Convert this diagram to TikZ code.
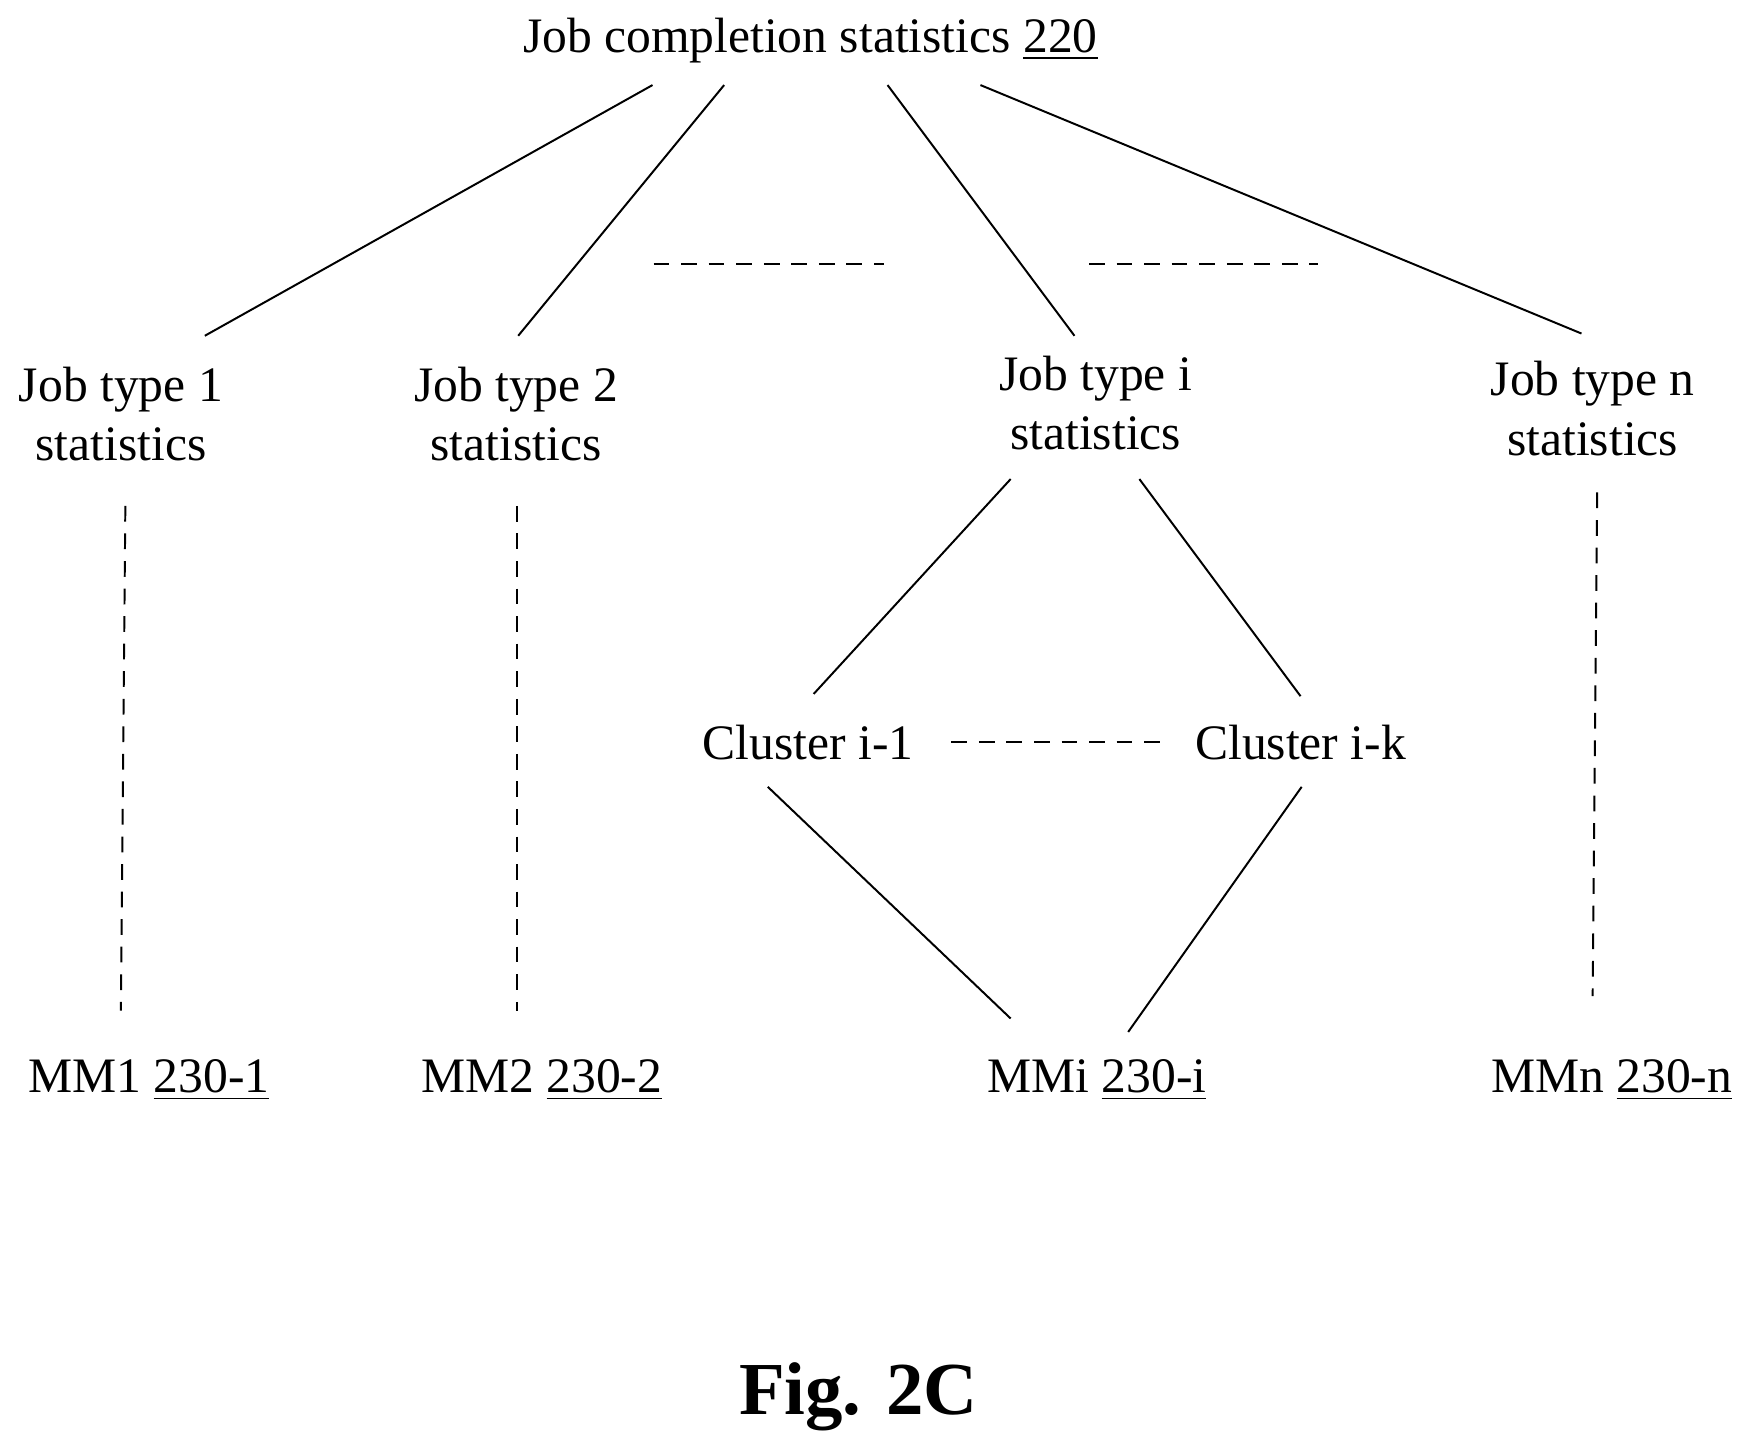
\documentclass[tikz,border=0pt]{standalone}
\usepackage{fontspec}
\setmainfont{Liberation Serif}
\usetikzlibrary{calc}
\tikzset{
  lbl/.style={font=\fontsize{12.6}{15}\selectfont,align=center,inner sep=2pt},
  link/.style={line width=0.5pt},
  gap/.style={line width=0.5pt,dash pattern=on 4pt off 3pt}
}
\begin{document}
\begin{tikzpicture}[x=0.01cm,y=-0.01cm]
        \useasboundingbox (0,0) rectangle (1560,1296);
        % labels
        \node[lbl] (top) at (724,36) {Job completion statistics \underline{220}};
        \node[lbl] (jt1) at (108,370) {Job type 1\\statistics};
        \node[lbl] (jt2) at (461,370) {Job type 2\\statistics};
        \node[lbl] (jti) at (979,360) {Job type i\\statistics};
        \node[lbl] (jtn) at (1423,365) {Job type n\\statistics};
        \node[lbl] (cl1) at (722,663) {Cluster i-1};
        \node[lbl] (clk) at (1162,663) {Cluster i-k};
        \node[lbl] (mm1) at (133,965) {MM1 \underline{230-1}};
        \node[lbl] (mm2) at (484,965) {MM2 \underline{230-2}};
        \node[lbl] (mmi) at (980,965) {MMi \underline{230-i}};
        \node[lbl] (mmn) at (1440,965) {MMn \underline{230-n}};
        \node[font=\fontsize{19}{22}\selectfont\bfseries] (fig) at (767,1248) {Fig. 2C};

        % solid links
        \draw[link] ($(top)+(-141,40)$) -- ($(jt1)+(75,-70)$);
        \draw[link] ($(top)+(-77,40)$) -- ($(jt2)+(2,-70)$);
        \draw[link] ($(top)+(69,40)$) -- ($(jti)+(-19,-60)$);
        \draw[link] ($(top)+(152,40)$) -- ($(jtn)+(-10,-67)$);
        \draw[link] ($(jti)+(-76,68)$) -- ($(cl1)+(5,-43)$);
        \draw[link] ($(jti)+(39,68)$) -- ($(clk)+(0,-41)$);
        \draw[link] ($(cl1)+(-36,40)$) -- ($(mmi)+(-77,-55)$);
        \draw[link] ($(clk)+(1,40)$) -- ($(mmi)+(28,-43)$);

        % dashed links
        \draw[gap] ($(jt1)+(4,82)$) -- ($(mm1)+(-25,-62)$);
        \draw[gap] ($(jt2)+(1,82)$) -- ($(mm2)+(-22,-62)$);
        \draw[gap] ($(jtn)+(4,75)$) -- ($(mmn)+(-17,-75)$);
        \draw[gap] ($(cl1)+(128,0)$) -- ($(clk)+(-125,0)$);
        \coordinate (d1) at (584,236);
        \coordinate (d2) at (790,236);
        \coordinate (d3) at (973,236);
        \coordinate (d4) at (1178,236);
        \draw[gap] (d1) -- (d2);
        \draw[gap] (d3) -- (d4);
\end{tikzpicture}
\end{document}
